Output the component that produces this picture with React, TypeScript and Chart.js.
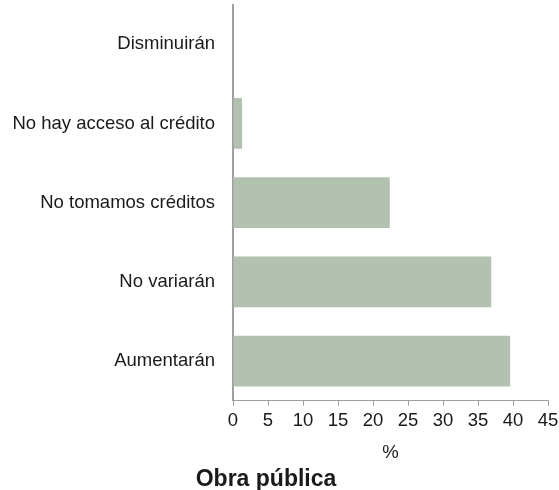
import React, { useEffect, useRef } from "react";
import { Chart, registerables } from "chart.js";

Chart.register(...registerables);

const categories = [
  "Disminuirán",
  "No hay acceso al crédito",
  "No tomamos créditos",
  "No variarán",
  "Aumentarán",
];
const values = [0, 1.3, 22.4, 36.9, 39.6];
const xTicksMin = 0;
const xTicksMax = 45;
const xTicksStep = 5;
const xTitle = "%";
const chartTitle = "Obra pública";

export default function App() {
  const ref = useRef<HTMLCanvasElement | null>(null);
  useEffect(() => {
    if (!ref.current) return;
    const font = "'Liberation Sans', Arial, Helvetica, sans-serif";
    const chart = new Chart(ref.current, {
      type: "bar",
      data: {
        labels: categories,
        datasets: [
          {
            data: values,
            backgroundColor: "#b3c1b0",
            borderWidth: 0,
            barPercentage: 0.64,
            categoryPercentage: 1,
          },
        ],
      },
      options: {
        indexAxis: "y",
        animation: false,
        responsive: false,
        maintainAspectRatio: false,
        layout: { padding: { left: -16, right: 11, top: 4, bottom: 0 } },
        plugins: {
          legend: { display: false },
          tooltip: { enabled: false },
          title: {
            display: true,
            text: chartTitle,
            position: "bottom",
            color: "#1a1a1a",
            font: { family: font, size: 23, weight: "bold", lineHeight: 0.9 },
            padding: { top: 0, bottom: 0 },
          },
        },
        scales: {
          x: {
            min: xTicksMin,
            max: xTicksMax,
            ticks: {
              stepSize: xTicksStep,
              color: "#1a1a1a",
              font: { family: font, size: 18.5, lineHeight: 1.7 },
              padding: 0,
              maxRotation: 0,
            },
            grid: {
              display: true,
              drawOnChartArea: false,
              drawTicks: true,
              tickLength: 5,
              color: "#a0a0a0",
            },
            border: { display: true, color: "#a0a0a0", width: 1 },
            title: {
              display: true,
              text: xTitle,
              color: "#1a1a1a",
              font: { family: font, size: 18.5, lineHeight: 1.2 },
              padding: { top: 5, bottom: 5 },
            },
          },
          y: {
            afterFit: (s: any) => {
              s.width = 249;
            },
            ticks: {
              color: "#1a1a1a",
              font: { family: font, size: 18.5, lineHeight: 0.5 },
              padding: 0,
            },
            grid: { display: false, drawTicks: true, tickLength: 18 },
            border: { display: true, color: "#a0a0a0", width: 2 },
          },
        },
      },
    });
    return () => chart.destroy();
  }, []);
  return (
    <div style={{ position: "absolute", left: 0, top: 0, width: 559, height: 490 }}>
      <canvas ref={ref} width={559} height={490} />
    </div>
  );
}
